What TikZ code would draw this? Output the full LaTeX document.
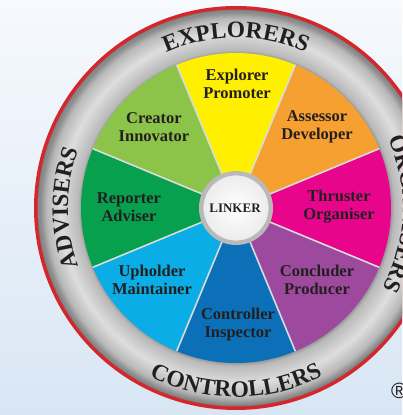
\documentclass[tikz,border=0pt]{standalone}
\usepackage{fontspec}
\setmainfont{Liberation Serif}
\newfontfamily\regfont{Liberation Sans}
\usetikzlibrary{decorations.text}
\definecolor{bgtop}{HTML}{F6F9FD}
\definecolor{bgbot}{HTML}{D8E6F4}
\definecolor{rimred}{HTML}{D7262B}
\definecolor{rimdark}{HTML}{7A7A7A}
\definecolor{ringdk}{HTML}{8A8A8A}
\definecolor{ringmid}{HTML}{B9B9B9}
\definecolor{ringlt}{HTML}{DEDEDE}
\definecolor{cyel}{HTML}{FFF000}
\definecolor{corg}{HTML}{F7A032}
\definecolor{cpink}{HTML}{E8058B}
\definecolor{cpur}{HTML}{9D4A9E}
\definecolor{cblue}{HTML}{0B70B8}
\definecolor{clblue}{HTML}{0AADE6}
\definecolor{cdgreen}{HTML}{06A04E}
\definecolor{clgreen}{HTML}{8CC44A}
\definecolor{ink}{HTML}{231F20}
\definecolor{sepcol}{HTML}{D9DCDC}
\pgfdeclareradialshading{ringshade}{\pgfpoint{0bp}{0bp}}{color(0bp)=(ringdk); color(19.4bp)=(ringdk); color(20bp)=(ringmid); color(22.2bp)=(ringlt); color(24bp)=(ringmid); color(24.8bp)=(ringdk); color(50bp)=(ringdk)}
\newcommand\ringfont{\fontsize{23.5}{23.5}\selectfont\bfseries}
\tikzset{
  role/.style={align=center, text=ink, font=\fontsize{16.5}{18}\selectfont\bfseries, inner sep=0pt},
  sepline/.style={draw=sepcol, line width=1.6pt},
  ringtext/.style={decorate, decoration={text along path, text align=center, text color=ink}}
}
\begin{document}
\begin{tikzpicture}[x=1pt,y=1pt]
\useasboundingbox (-236,-207) rectangle (166,208);
\clip (-236,-207) rectangle (166,208);
\shade[top color=bgtop, bottom color=bgbot] (-236,-207) rectangle (166,208);
% rim and ring
\fill[rimred] (0,0) circle (202);
\fill[rimdark] (0,0) circle (198.5);
\shade[shading=ringshade] (0,0) circle (197.5);
% segments
\foreach \a/\c in {90/cyel, 45/corg, 0/cpink, -45/cpur, -90/cblue, -135/clblue, 180/cdgreen, 135/clgreen}{
  \fill[\c] (\a-22.5:32) -- (\a-22.5:155) arc[start angle=\a-22.5, end angle=\a+22.5, radius=155] -- (\a+22.5:32) arc[start angle=\a+22.5, end angle=\a-22.5, radius=32] -- cycle;
}
\foreach \a in {22.5,67.5,...,337.5}{
  \draw[sepline] (\a:33) -- (\a:155);
}
% hub
\fill[ringmid] (0,0) circle (37);
\shade[inner color=white, outer color=white!85!gray] (0,0) circle (33);
\draw[gray!55, line width=0.8pt] (0,0) circle (33);
\node[role, font=\fontsize{13}{13}\selectfont\bfseries] (linker) at (-1,0) {LINKER};
% role labels
\node[role] (explorer) at (1,124) {Explorer\\Promoter};
\node[role] (assessor) at (81,81) {Assessor\\Developer};
\node[role] (thruster) at (103,1) {Thruster\\Organiser};
\node[role] (concluder) at (81,-72) {Concluder\\Producer};
\node[role] (controller) at (2,-117) {Controller\\Inspector};
\node[role] (upholder) at (-84,-72) {Upholder\\Maintainer};
\node[role] (reporter) at (-107,1) {Reporter\\Adviser};
\node[role] (creator) at (-82,81) {Creator\\Innovator};
% ring texts
\path[ringtext, decoration={text={|\ringfont|EXPLORERS}}] (150:170) arc[start angle=150, end angle=30, radius=170];
\path[ringtext, decoration={text={|\ringfont|ADVISERS}}] (240:168) arc[start angle=240, end angle=120, radius=168];
\path[ringtext, decoration={text={|\ringfont|ORGANISERS}}] (58:167) arc[start angle=58, end angle=-62, radius=167];
\path[ringtext, decoration={text={|\ringfont|CONTROLLERS}}] (210:189) arc[start angle=210, end angle=330, radius=189];
% registered mark
\node[anchor=west, inner sep=0pt, text=ink, font=\regfont\fontsize{22}{22}\selectfont] (reg) at (155,-183) {\textregistered};
\end{tikzpicture}
\end{document}
